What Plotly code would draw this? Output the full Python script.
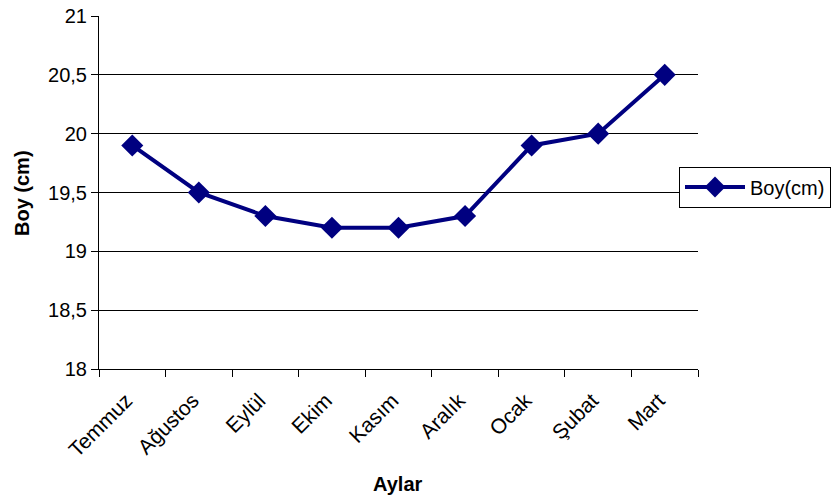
import plotly.graph_objects as go

# Monthly height measurements
months = ["Temmuz", "Ağustos", "Eylül", "Ekim", "Kasım", "Aralık", "Ocak", "Şubat", "Mart"]
boy_cm = [19.9, 19.5, 19.3, 19.2, 19.2, 19.3, 19.9, 20.0, 20.5]
y_ticks = [18, 18.5, 19, 19.5, 20, 20.5, 21]
y_tick_labels = ["18", "18,5", "19", "19,5", "20", "20,5", "21"]

FONT = "Liberation Sans, Arial, sans-serif"
NAVY = "#000080"

# Plot area in pixels
L, R, T, B = 99, 140, 16, 134
W, H = 838, 503
plot_w, plot_h = W - L - R, H - T - B

fig = go.Figure()
fig.add_trace(go.Scatter(
    x=months, y=boy_cm, mode="lines+markers", name="Boy(cm)",
    line=dict(color=NAVY, width=4),
    marker=dict(symbol="diamond", size=17, color=NAVY),
))

fig.update_layout(
    width=W, height=H,
    margin=dict(l=L, r=R, t=T, b=B, autoexpand=False),
    paper_bgcolor="white", plot_bgcolor="white",
    font=dict(family=FONT, size=20, color="black"),
    showlegend=True,
    legend=dict(
        x=(679 - L) / plot_w, y=(H - B - 187) / plot_h,
        xanchor="left", yanchor="middle",
        bordercolor="black", borderwidth=1, bgcolor="white",
        font=dict(size=20), itemwidth=60, tracegroupgap=0,
    ),
    xaxis=dict(
        type="category", tickson="boundaries", ticks="outside", ticklen=7,
        tickcolor="black", showline=True, linecolor="black", linewidth=1,
        showgrid=False, tickangle=-45, tickfont=dict(size=21),
        ticklabelstandoff=10, ticklabelshift=-6,
        range=[-0.5, 8.5], automargin=False,
    ),
    yaxis=dict(
        range=[18, 21], tickvals=y_ticks, ticktext=y_tick_labels,
        ticks="outside", ticklen=7, tickcolor="black",
        showline=True, linecolor="black", linewidth=1,
        showgrid=True, gridcolor="black", gridwidth=1,
        zeroline=False, tickfont=dict(size=20), automargin=False,
    ),
    annotations=[
        dict(text="<b>Aylar</b>", xref="paper", yref="paper",
             x=(398 - L) / plot_w, y=(H - B - 484) / plot_h,
             xanchor="center", yanchor="middle",
             showarrow=False, font=dict(size=20)),
        dict(text="<b>Boy (cm)</b>", xref="paper", yref="paper",
             x=(22 - L) / plot_w, y=(H - B - 193) / plot_h,
             xanchor="center", yanchor="middle",
             showarrow=False, font=dict(size=20), textangle=-90),
    ],
)

fig.write_html("out.html")
